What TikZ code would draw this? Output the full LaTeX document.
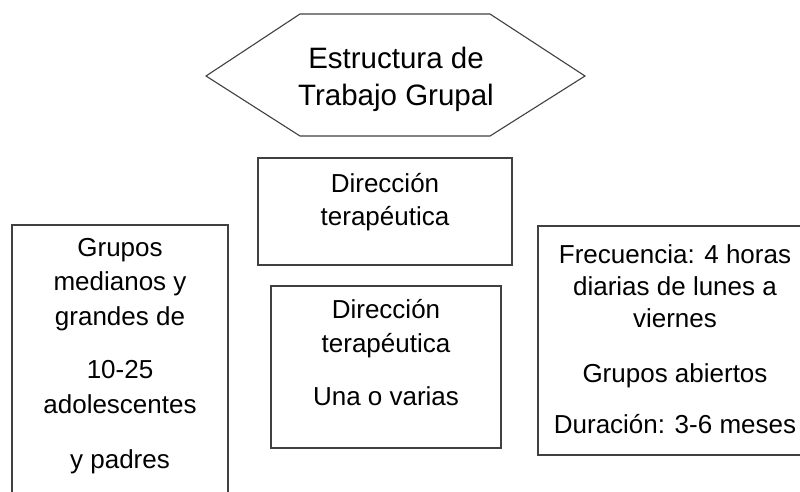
\documentclass[tikz,border=0pt]{standalone}
\usepackage{fontspec}
\setmainfont{Liberation Sans}
\begin{document}
\begin{tikzpicture}[x=1pt,y=-1pt,
  frame/.style={draw=black!75,line width=1.1pt},
  txt/.style={anchor=base,inner sep=0pt,font=\fontsize{26}{30}\selectfont},
  ttl/.style={anchor=base,inner sep=0pt,font=\fontsize{29.5}{34}\selectfont}]
\useasboundingbox (0,0) rectangle (800,491);
\clip (0,0) rectangle (800,491);
% hexagon
\coordinate (hL) at (206,76);
\coordinate (hTL) at (300,14);
\coordinate (hTR) at (490,14);
\coordinate (hR) at (585,76);
\coordinate (hBR) at (490,136);
\coordinate (hBL) at (300,136);
\draw[frame] (hL) -- (hTL) -- (hTR) -- (hR) -- (hBR) -- (hBL) -- cycle;
\node[ttl] (t1) at (396,68) {Estructura de};
\node[ttl] (t2) at (396,105) {Trabajo Grupal};
% box 1
\draw[frame] (258,158) rectangle (512,265);
\node[txt] (d1a) at (385,192) {Dirección};
\node[txt] (d1b) at (385,225) {terapéutica};
% box 2
\draw[frame] (271,286) rectangle (501,448);
\node[txt] (d2a) at (386,318) {Dirección};
\node[txt] (d2b) at (386,352) {terapéutica};
\node[txt] (d2c) at (386,405) {Una o varias};
% left box
\draw[frame] (12,500) -- (12,225) -- (228,225) -- (228,500);
\node[txt] (g1) at (120,256) {Grupos};
\node[txt] (g2) at (120,290) {medianos y};
\node[txt] (g3) at (120,325) {grandes de};
\node[txt] (g4) at (120,378) {10-25};
\node[txt] (g5) at (120,413) {adolescentes};
\node[txt] (g6) at (120,468) {y padres};
% right box
\draw[frame] (812,226) -- (538,226) -- (538,455) -- (812,455);
\node[txt] (f1) at (675,263) {Frecuencia: 4 horas};
\node[txt] (f2) at (675,295) {diarias de lunes a};
\node[txt] (f3) at (675,327) {viernes};
\node[txt] (f4) at (675,382) {Grupos abiertos};
\node[txt] (f5) at (675,433) {Duración: 3-6 meses};
\end{tikzpicture}
\end{document}
